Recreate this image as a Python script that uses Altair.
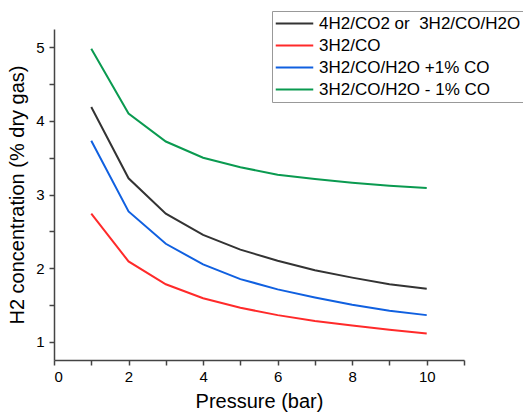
import altair as alt
import pandas as pd

pressure = [1, 2, 3, 4, 5, 6, 7, 8, 9, 10]
series_names = ["4H2/CO2 or\u00a0 3H2/CO/H2O", "3H2/CO", "3H2/CO/H2O +1% CO", "3H2/CO/H2O - 1% CO"]
black_vals = [4.19, 3.22, 2.74, 2.45, 2.25, 2.10, 1.97, 1.87, 1.78, 1.72]
red_vals = [2.74, 2.09, 1.78, 1.59, 1.46, 1.36, 1.28, 1.22, 1.16, 1.11]
blue_vals = [3.73, 2.77, 2.33, 2.05, 1.85, 1.71, 1.60, 1.50, 1.42, 1.36]
green_vals = [4.98, 4.10, 3.72, 3.50, 3.37, 3.27, 3.21, 3.16, 3.12, 3.09]
colors = ["#333333", "#ff2a2a", "#1060e0", "#0a9a50"]

rows = []
for name, vals in zip(series_names, [black_vals, red_vals, blue_vals, green_vals]):
    for p, v in zip(pressure, vals):
        rows.append({"Pressure": p, "H2": v, "Series": name})
df = pd.DataFrame(rows)

font = "Liberation Sans"
axis_common = dict(grid=False, tickSize=5, labelFontSize=15, titleFontSize=20,
                   labelFont=font, titleFont=font, labelColor="#000", titleColor="#000",
                   domainColor="#444", tickColor="#444", domainWidth=1.5, tickWidth=1.5,
                   titleFontWeight="normal")

chart = alt.Chart(df).mark_line(strokeWidth=2, clip=True).encode(
    x=alt.X("Pressure:Q", title="Pressure (bar)",
            scale=alt.Scale(domain=[0, 11], nice=False, zero=False),
            axis=alt.Axis(values=[0, 1, 2, 3, 4, 5, 6, 7, 8, 9, 10, 11],
                          labelExpr="datum.value % 2 == 0 && datum.value <= 10 ? format(datum.value, 'd') : ''",
                          labelPadding=4, titlePadding=7, **axis_common)),
    y=alt.Y("H2:Q", title="H2 concentration (% dry gas)",
            scale=alt.Scale(domain=[0.75, 5.25], nice=False, zero=False),
            axis=alt.Axis(values=[1, 1.5, 2, 2.5, 3, 3.5, 4, 4.5, 5],
                          labelExpr="datum.value % 1 == 0 ? format(datum.value, 'd') : ''",
                          labelPadding=5, titlePadding=8, **axis_common)),
    color=alt.Color("Series:N", scale=alt.Scale(domain=series_names, range=colors),
                    legend=alt.Legend(title=None, orient="none", legendX=218, legendY=-18,
                                      symbolType="M-2.5,0H2.5", symbolStrokeWidth=2, symbolSize=225,
                                      labelFontSize=17, labelFont=font, labelColor="#000",
                                      strokeColor="#999", padding=4, rowPadding=4,
                                      labelLimit=400, symbolOffset=10, labelOffset=16)),
).properties(
    width=410, height=331,
    autosize=alt.AutoSizeParams(type="none"),
    padding={"left": 54, "top": 29, "right": 59, "bottom": 58},
).configure_view(stroke=None)

chart.save("out.html", embed_options={"renderer": "svg", "actions": False})
